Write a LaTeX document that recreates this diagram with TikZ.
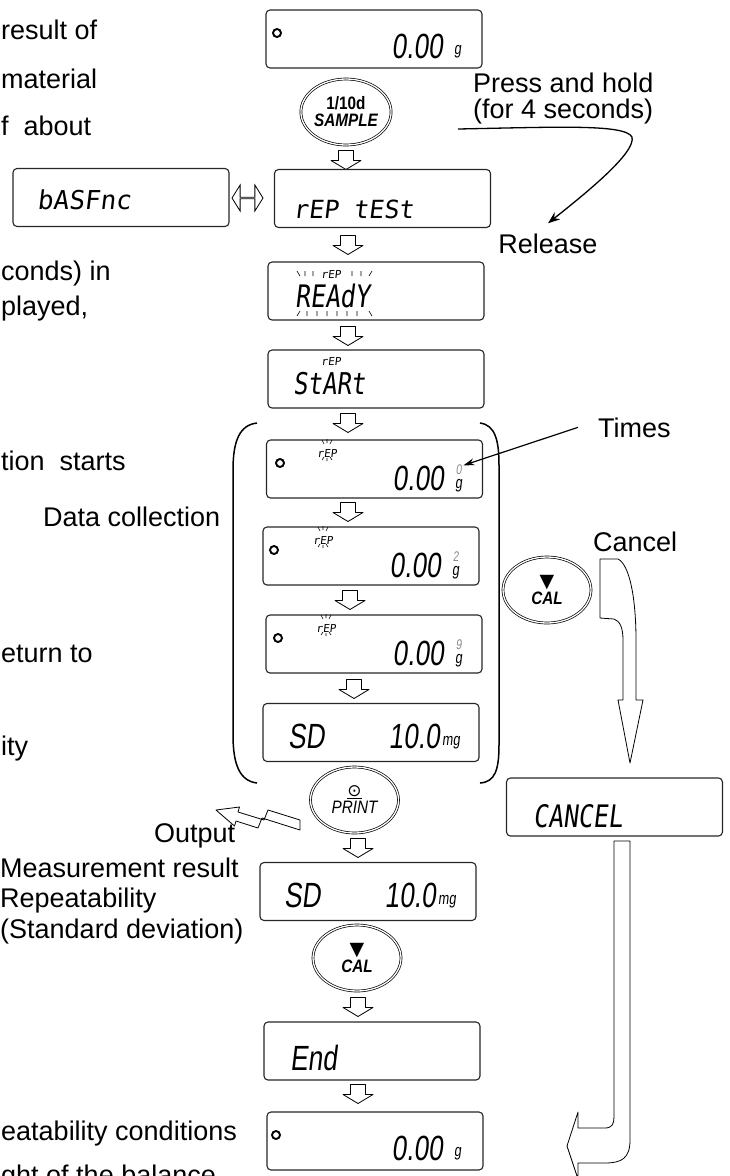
\documentclass[tikz,border=0pt]{standalone}
\usepackage{fontspec}
\setmainfont{Liberation Sans}
\newfontfamily\lcdtxt[FakeSlant=0.12]{DejaVu Sans Mono}
\newfontfamily\lcdslim[FakeSlant=0.12,FakeStretch=0.8]{DejaVu Sans Mono}
\newfontfamily\lcdnum[FakeSlant=0.12,FakeStretch=0.75]{Liberation Sans}
\newfontfamily\keyfont[FakeStretch=0.85]{Liberation Sans}
\newfontfamily\symfont{DejaVu Sans}
\usetikzlibrary{arrows.meta,positioning,shapes.geometric,shapes.arrows}
% blinking marks round the E of a small rEP
\newcommand{\blink}[2]{\draw[tick] (#1,#2) +(-5,-13) -- +(-3,-9) +(0,-14) -- +(0,-10)
  +(5,-13) -- +(3,-9) +(-5,7) -- +(-3,4) +(0,8) -- +(0,5) +(5,7) -- +(3,4);}
% hollow step arrow, centred at (#1,#2)
\newcommand{\stepdown}[2]{\draw[hollow] (#1,#2) +(-7.5,-9.5) -- +(7.5,-9.5) -- +(7.5,0.5)
  -- +(15,0.5) -- +(0,9.5) -- +(-15,0.5) -- +(-7.5,0.5) -- cycle;}
% weighing count over the unit
\newcommand{\countg}[1]{{\color{black!45}\fontsize{14}{14}\selectfont #1}\\g}

\begin{document}
\begin{tikzpicture}[x=1pt,y=-1pt,
  every node/.style={inner sep=0pt},
  lcd/.style={draw=black!85,line width=1.1pt,rounded corners=4pt,
              minimum width=216pt,minimum height=58pt},
  key/.style={ellipse,draw,double,double distance=1.3pt,line width=0.7pt,
              minimum width=88pt,minimum height=66pt,align=center,
              font=\keyfont\fontsize{18}{17}\selectfont},
  big/.style={font=\lcdnum\fontsize{35}{35}\selectfont},
  word/.style={font=\lcdtxt\fontsize{#1}{#1}\selectfont},
  slim/.style={font=\lcdslim\fontsize{#1}{#1}\selectfont},
  unit/.style={font=\lcdnum\fontsize{17}{14}\selectfont},
  tag/.style={font=\lcdtxt\fontsize{11}{11}\selectfont},
  lbl/.style={font=\fontsize{27}{26}\selectfont},
  led/.style={circle,draw,line width=1.9pt,minimum size=8pt},
  tick/.style={line width=0.6pt},
  hollow/.style={draw,line width=0.8pt,fill=white,line join=round},
]
\useasboundingbox (0,0) rectangle (729,1176);
\clip (0,0) rectangle (729,1176);

% text of the page on the left
\node[lbl,anchor=base west] (t1) at (1,39) {result of};
\node[lbl,anchor=base west] (t2) at (1,88) {material};
\node[lbl,anchor=base west] (t3) at (1,135) {f\ \ about};
\node[lbl,anchor=base west] (t4) at (1,280) {conds) in};
\node[lbl,anchor=base west] (t5) at (1,315) {played,};
\node[lbl,anchor=base west] (t6) at (1,470) {tion\ \ starts};
\node[lbl,anchor=base west] (collect) at (43,526) {Data collection};
\node[lbl,anchor=base west] (t7) at (1,662) {eturn to};
\node[lbl,anchor=base west] (t8) at (1,755) {ity};
\node[lbl,anchor=base west] (output) at (154,842) {Output};
\node[lbl,anchor=north west,align=left,font=\fontsize{27}{30.5}\selectfont]
  (result) at (0,857.5) {Measurement result\\Repeatability\\(Standard deviation)};
\node[lbl,anchor=base west] (t9) at (1,1140) {eatability conditions};
\node[lbl,anchor=base west] (t10) at (1,1184) {ght of the balance};

% function display and swap
\node[lcd] (fnc) at (121,197.5) {};
\node[word=26,anchor=base west] (fnctxt) at (37,209) {bASFnc};
\node[double arrow,draw,line width=0.8pt,minimum height=31pt,minimum width=26pt,
      double arrow head extend=7pt,double arrow tip angle=116] (swap) at (247.5,198) {};

% main column
\node[lcd] (d0) at (374,39) {};
\node[led] (d0led) at (277,33) {};
\node[big,anchor=base east] (d0val) at (443,58) {0.00};
\node[unit,anchor=base west] (d0u) at (454,54) {g};

\node[key] (ksample) at (346,112) {\bfseries 1/10d\\\bfseries\itshape SAMPLE};
\stepdown{346}{160}

\node[lcd] (rep) at (382.5,198.5) {};
\node[word=25,anchor=base west] (reptxt) at (293,218) {rEP tESt};
\stepdown{348}{245}

\node[lcd] (ready) at (376,291) {};
\node[tag,anchor=base west] (readytag) at (321,278) {rEP};
\node[slim=31,anchor=base west] (readytxt) at (295,307) {REAdY};
\draw[tick] (297,271) -- (300,276) (305,271) -- (305,276) (313,271) -- (313,276)
  (352,271) -- (352,276) (361,271) -- (361,276) (372,271) -- (369,276);
\draw[tick] (297,316) -- (300,311) (307,311) -- (307,316) (317,311) -- (317,316)
  (327,311) -- (327,316) (337,311) -- (337,316) (347,311) -- (347,316)
  (357,311) -- (357,316) (372,316) -- (369,311);
\stepdown{348}{336}

\node[lcd] (start) at (376,379) {};
\node[tag,anchor=base west] (starttag) at (321,365) {rEP};
\node[slim=30,anchor=base west] (starttxt) at (293,394) {StARt};
\stepdown{348}{423}

% data collection
\node[lcd] (m1) at (374.5,469) {};
\node[led] (m1led) at (280,463) {};
\node[tag,anchor=base west] (m1tag) at (317,457) {rEP};
\blink{327}{453}
\node[big,anchor=base east] (m1val) at (444,490) {0.00};
\node[unit,align=center,anchor=south west] (m1u) at (455,492) {\countg{0}};
\stepdown{348}{512}

\node[lcd] (m2) at (371,556) {};
\node[led] (m2led) at (274,550) {};
\node[tag,anchor=base west] (m2tag) at (313,544) {rEP};
\blink{323}{540}
\node[big,anchor=base east] (m2val) at (441,577) {0.00};
\node[unit,align=center,anchor=south west] (m2u) at (452,579) {\countg{2}};
\stepdown{350}{600}

\node[lcd] (m3) at (374,644) {};
\node[led] (m3led) at (278,638) {};
\node[tag,anchor=base west] (m3tag) at (316,632) {rEP};
\blink{326}{628}
\node[big,anchor=base east] (m3val) at (444,665) {0.00};
\node[unit,align=center,anchor=south west] (m3u) at (455,667) {\countg{9}};
\stepdown{354}{689}

\node[lcd] (sd1) at (371,732.5) {};
\node[big,anchor=base west] (sd1txt) at (288,748) {SD};
\node[big,anchor=base east] (sd1val) at (440,748) {10.0};
\node[unit,anchor=base west] (sd1u) at (442,745) {mg};

\draw[line width=1.5pt] (257,423) .. controls (240,425) and (233,440) .. (233,470)
  -- (233,735) .. controls (233,765) and (240,781) .. (257,783);
\draw[line width=1.5pt] (480,423) .. controls (495,425) and (499,440) .. (499,465)
  -- (499,745) .. controls (499,770) and (495,782) .. (480,783);

\node[key] (kprint) at (354.5,800) {{\symfont\fontsize{17}{17}\selectfont\underline{⊙}}\\\itshape PRINT};
\stepdown{358}{848}

\node[lcd] (sd2) at (368,891.5) {};
\node[big,anchor=base west] (sd2txt) at (284,907) {SD};
\node[big,anchor=base east] (sd2val) at (436,907) {10.0};
\node[unit,anchor=base west] (sd2u) at (438,904) {mg};

\node[key] (kcal) at (357,958) {{\symfont\fontsize{19}{17}\selectfont ▼}\\\bfseries\itshape CAL};
\stepdown{358}{1007}

\node[lcd] (fin) at (372,1051) {};
\node[big,anchor=base west] (fintxt) at (290,1070) {End};
\stepdown{358}{1094}

\node[lcd] (d1) at (375,1141) {};
\node[led] (d1led) at (276,1135) {};
\node[big,anchor=base east] (d1val) at (443,1160) {0.00};
\node[unit,anchor=base west] (d1u) at (454,1156) {g};

% right-hand notes
\node[lbl,anchor=north west,align=left] (hold) at (473,72.5) {Press and hold\\(for 4 seconds)};
\node[lbl,anchor=base] (release) at (548,253) {Release};
\coordinate (holdfrom) at (458,129);
\draw[line width=1.3pt,-{Stealth[length=12pt,width=9pt]}] (holdfrom)
  .. controls (560,127) and (625,124) .. (632,137)
  .. controls (636,152) and (590,190) .. ([yshift=10pt]release.north);

\node[lbl,anchor=base west] (times) at (598,437) {Times};
\draw[line width=1.2pt,-{Stealth[length=11pt,width=7pt]}] ([xshift=-20pt]times.west) -- ([xshift=1pt,yshift=-1pt]m1u.north east);

% cancel branch
\node[lbl,anchor=base west] (cancellbl) at (593,551) {Cancel};
\node[key] (kcal2) at (547,590) {{\symfont\fontsize{19}{17}\selectfont ▼}\\\bfseries\itshape CAL};
\draw[hollow] (600,559) -- (600,618) -- (614,619) .. controls (620,621) and (623,628) .. (623,640)
  -- (623,700) -- (618,700) -- (630,763) -- (643,700) -- (636,700) -- (636,640)
  .. controls (636,600) and (630,565) .. (618,559) -- cycle;
\node[lcd] (cancel) at (614.5,807) {};
\node[slim=31,anchor=base west] (canceltxt) at (533,827) {CANCEL};
\draw[hollow] (614,841) -- (630,841) -- (630,1140) .. controls (630,1158) and (622,1163) .. (605,1163)
  -- (578,1163) -- (578,1179) -- (567,1146) -- (578,1112) -- (578,1128) -- (605,1128)
  .. controls (612,1128) and (614,1124) .. (614,1117) -- cycle;

% output to the printer
\draw[hollow] (300,820) -- (268,810) -- (264,820) -- (238,812) -- (239.5,807) -- (216,810)
  -- (234.5,826) -- (236,821) -- (258,828) -- (262,818) -- (300,830) -- cycle;
\end{tikzpicture}
\end{document}
